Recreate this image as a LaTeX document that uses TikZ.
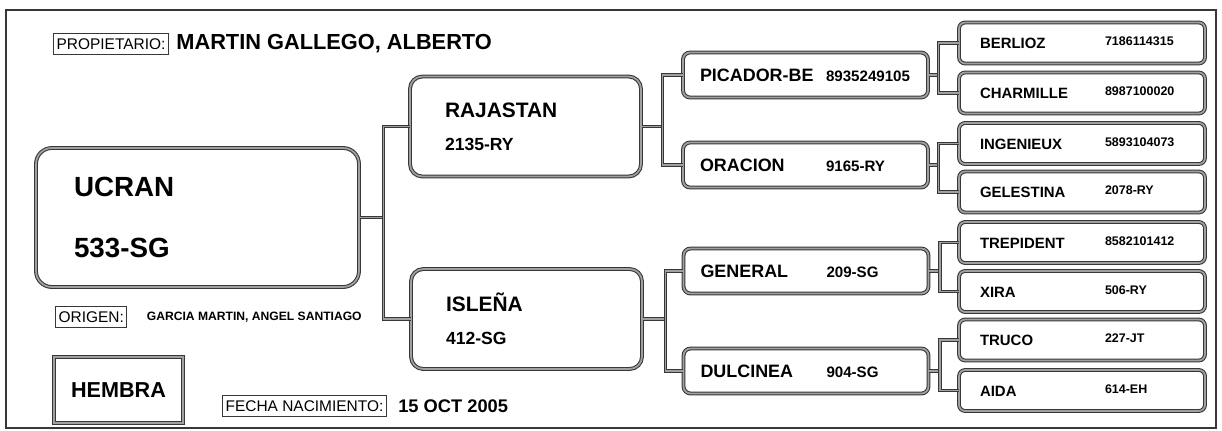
\documentclass[tikz,border=0pt]{standalone}
\usepackage{fontspec}
\setmainfont{Liberation Sans}
\usetikzlibrary{positioning}
\definecolor{pedline}{RGB}{55,55,55}
\definecolor{pedfill}{RGB}{160,160,160}
\newcommand{\midpair}[2]{\makebox[2.52cm][l]{#1}{\fontsize{8.6}{10}\selectfont #2}}
\newcommand{\outpair}[2]{\makebox[2.5cm][l]{#1}\raisebox{1.7pt}{\fontsize{7.1}{9}\selectfont #2}}

\begin{document}
\begin{tikzpicture}[x=0.02cm, y=-0.02cm,
    dbl/.style={draw=pedline, line width=0.6pt, double=pedfill, double distance=1pt},
    animal/.style={dbl, fill=white, font=\bfseries, align=left},
    mainbox/.style={animal, rounded corners=9pt, minimum width=6.46cm, minimum height=2.78cm,
                inner xsep=0.76cm, text width=4.94cm, font=\bfseries\fontsize{15.8}{29}\selectfont},
    sirebox/.style={animal, rounded corners=7pt, minimum width=4.62cm, minimum height=2cm,
                inner xsep=0.7cm, text width=3.22cm, font=\bfseries\fontsize{11.9}{18.7}\selectfont},
    gpbox/.style={animal, rounded corners=4pt, minimum width=4.9cm, minimum height=0.9cm,
                inner xsep=0.34cm, text width=4.22cm, font=\bfseries\fontsize{10.2}{12}\selectfont},
    ggpbox/.style={animal, rounded corners=3.5pt, minimum width=4.92cm, minimum height=0.82cm,
                inner xsep=0.42cm, text width=4.08cm, font=\bfseries\fontsize{8.5}{10}\selectfont},
    tag/.style={draw=pedline, line width=0.7pt, inner xsep=1.7pt, inner ysep=0pt,
                minimum height=0.42cm, font=\fontsize{8.8}{10}\selectfont},
    info/.style={inner sep=0pt},
    link/.style={dbl}
  ]
    \useasboundingbox (0,0) rectangle (1222,430);
    \draw[draw=pedline, line width=1pt] (6,10) rectangle (1216,428);

    % Header
    \node[tag, anchor=west] (owner) at (53,44) {PROPIETARIO:};
    \node[info, font=\bfseries\fontsize{12.4}{14}\selectfont, right=0.14cm of owner] (ownername)
      {MARTIN GALLEGO, ALBERTO};

    % Animal
    \node[mainbox] (ucran) at (197.5,217.5) {\vspace*{6pt}UCRAN\\533-SG};

    % Parents
    \node[sirebox] (rajastan) at (525.5,126.5) {RAJASTAN\\{\fontsize{10}{18.7}\selectfont 2135-RY}};
    \node[sirebox] (islena)   at (526.5,319)   {ISLEÑA\\{\fontsize{10}{18.7}\selectfont 412-SG}};

    % Grandparents
    \node[gpbox] (picador)  at (805.5,75)  {\midpair{PICADOR-BE}{8935249105}};
    \node[gpbox] (oracion)  at (805.5,165) {\midpair{ORACION}{9165-RY}};
    \node[gpbox] (general)  at (806,271)   {\midpair{GENERAL}{209-SG}};
    \node[gpbox] (dulcinea) at (806,371)   {\midpair{DULCINEA}{904-SG}};

    % Great-grandparents
    \node[ggpbox] (berlioz)   at (1082,43)    {\outpair{BERLIOZ}{7186114315}};
    \node[ggpbox] (charmille) at (1082,93)    {\outpair{CHARMILLE}{8987100020}};
    \node[ggpbox] (ingenieux) at (1082,143.5) {\outpair{INGENIEUX}{5893104073}};
    \node[ggpbox] (gelestina) at (1082,192)   {\outpair{GELESTINA}{2078-RY}};
    \node[ggpbox] (trepident) at (1082,242.5) {\outpair{TREPIDENT}{8582101412}};
    \node[ggpbox] (xira)      at (1082,291.5) {\outpair{XIRA}{506-RY}};
    \node[ggpbox] (truco)     at (1082,340)   {\outpair{TRUCO}{227-JT}};
    \node[ggpbox] (aida)      at (1082,390.5) {\outpair{AIDA}{614-EH}};

    % Branches
    \draw[link] (ucran.east) -- ++(24,0) coordinate (j0);
    \draw[link] (rajastan.west) -| (j0) |- (islena.west);
    \draw[link] (rajastan.east) -- ++(21,0) coordinate (j1);
    \draw[link] (picador.west) -| (j1) |- (oracion.west);
    \draw[link] (islena.east) -- ++(23,0) coordinate (j2);
    \draw[link] (general.west) -| (j2) |- (dulcinea.west);
    \draw[link] (picador.east) -- ++(10,0) coordinate (j3);
    \draw[link] (berlioz.west) -| (j3) |- (charmille.west);
    \draw[link] (oracion.east) -- ++(10,0) coordinate (j4);
    \draw[link] (ingenieux.west) -| (j4) |- (gelestina.west);
    \draw[link] (general.east) -- ++(11,0) coordinate (j5);
    \draw[link] (trepident.west) -| (j5) |- (xira.west);
    \draw[link] (dulcinea.east) -- ++(11,0) coordinate (j6);
    \draw[link] (truco.west) -| (j6) |- (aida.west);

    % Footer
    \node[tag, anchor=west] (origin) at (55,317) {ORIGEN:};
    \node[info, font=\bfseries\fontsize{6.9}{8}\selectfont, right=0.38cm of origin] (breeder)
      {GARCIA MARTIN, ANGEL SANTIAGO};
    \node[dbl, minimum width=2.58cm, minimum height=1.32cm, font=\bfseries\fontsize{12.3}{14}\selectfont]
      (sex) at (118.5,390) {HEMBRA};
    \node[tag, anchor=west] (birth) at (222,406) {FECHA NACIMIENTO:};
    \node[info, font=\bfseries\fontsize{10.4}{12}\selectfont, right=0.22cm of birth] (birthdate)
      {15 OCT 2005};
  \end{tikzpicture}
\end{document}
